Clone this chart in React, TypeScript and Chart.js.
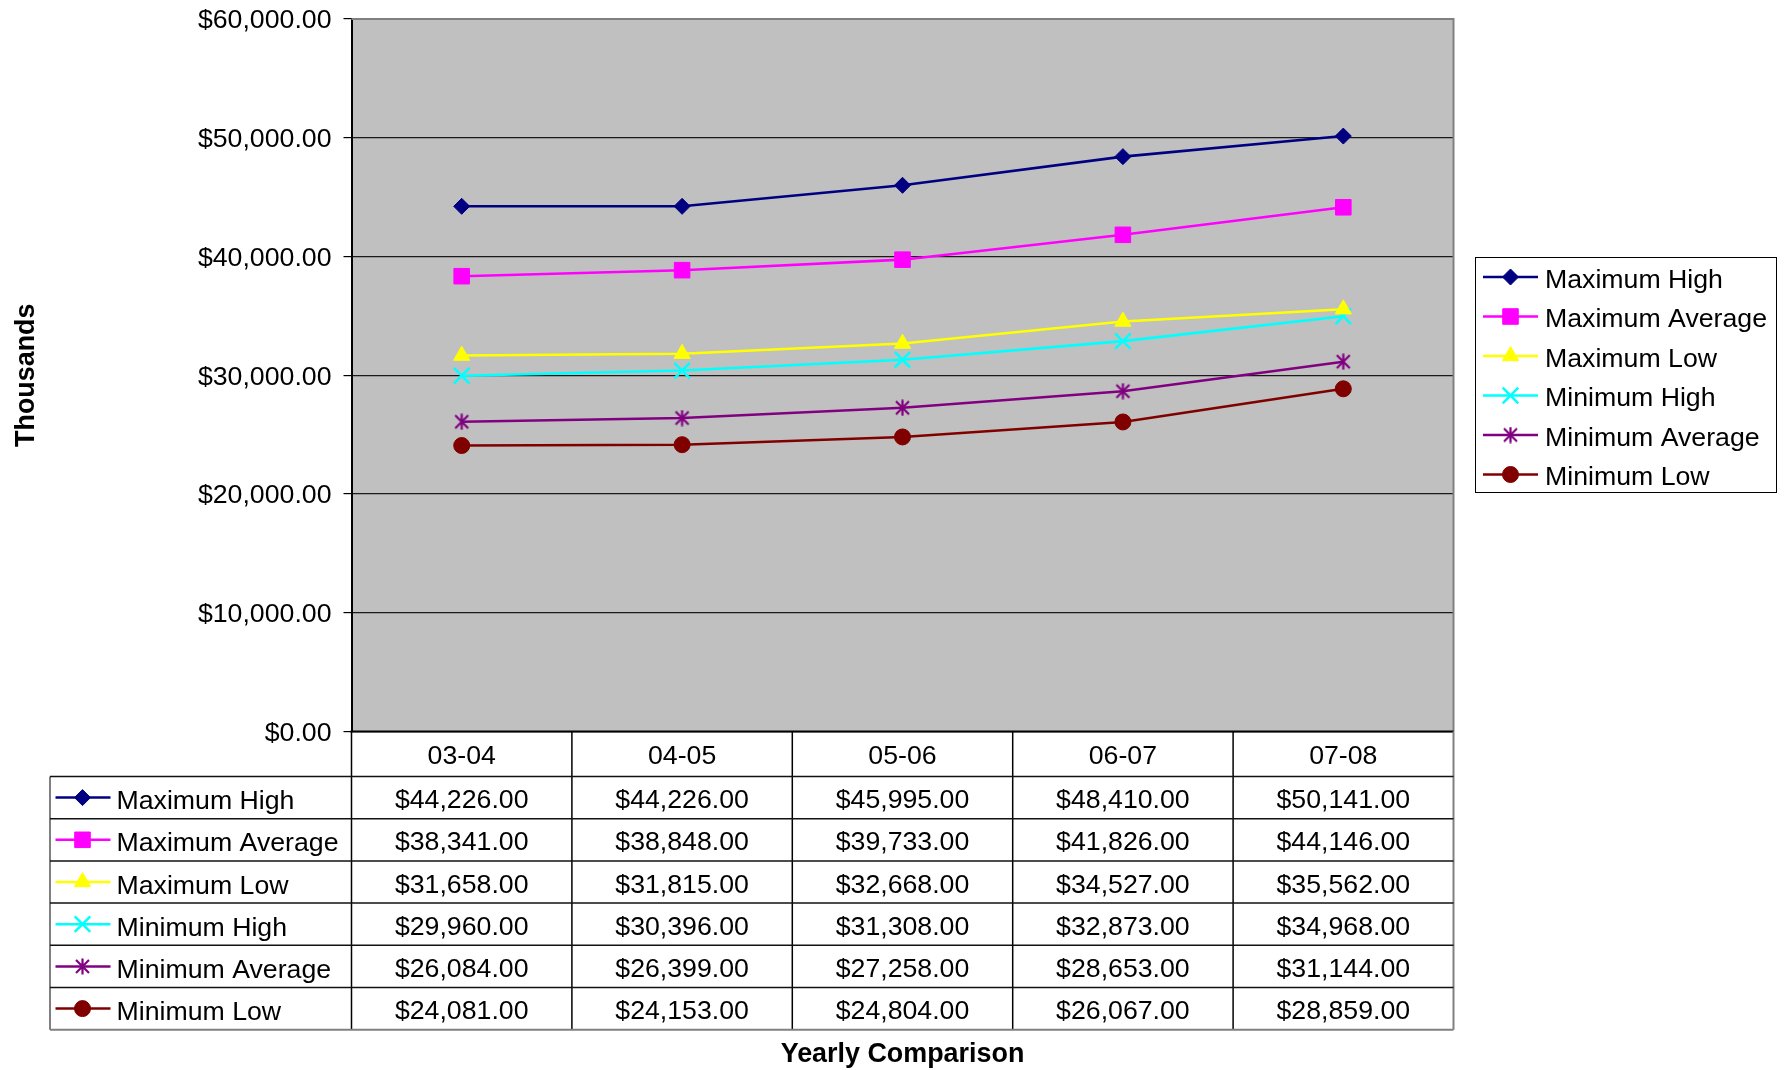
import React, { useEffect, useRef } from 'react';
import { Chart, registerables } from 'chart.js';
import { drawPoint } from 'chart.js/helpers';

Chart.register(...registerables);

const categories = ['03-04', '04-05', '05-06', '06-07', '07-08'];
const seriesNames = ['Maximum High', 'Maximum Average', 'Maximum Low', 'Minimum High', 'Minimum Average', 'Minimum Low'];
const maximumHigh = [44226, 44226, 45995, 48410, 50141];
const maximumAverage = [38341, 38848, 39733, 41826, 44146];
const maximumLow = [31658, 31815, 32668, 34527, 35562];
const minimumHigh = [29960, 30396, 31308, 32873, 34968];
const minimumAverage = [26084, 26399, 27258, 28653, 31144];
const minimumLow = [24081, 24153, 24804, 26067, 28859];
const yTickValues = [0, 10000, 20000, 30000, 40000, 50000, 60000];

const seriesValues = [maximumHigh, maximumAverage, maximumLow, minimumHigh, minimumAverage, minimumLow];

const FONT = '"Liberation Sans", Arial, Helvetica, sans-serif';
const FS = 26.7;
const FSB = 26.9;
const W = 1789;
const H = 1070;

const money = (v: number) =>
  '$' + Number(v).toLocaleString('en-US', { minimumFractionDigits: 2, maximumFractionDigits: 2 });

function makeStar(color: string, size = 17) {
  const c = document.createElement('canvas');
  c.width = size;
  c.height = size;
  const g = c.getContext('2d')!;
  g.strokeStyle = color;
  g.lineWidth = 2.2;
  g.lineCap = 'butt';
  g.beginPath();
  g.moveTo(2, 2);
  g.lineTo(size - 2, size - 2);
  g.moveTo(size - 2, 2);
  g.lineTo(2, size - 2);
  g.moveTo(size / 2, 0.5);
  g.lineTo(size / 2, size - 0.5);
  g.stroke();
  return c;
}

export default function App() {
  const ref = useRef<HTMLCanvasElement | null>(null);

  useEffect(() => {
    if (!ref.current) return;
    const styles: any[] = [
      { color: '#000080', pointStyle: 'rectRot', radius: 8, bw: 1 },
      { color: '#FF00FF', pointStyle: 'rect', radius: 11, bw: 1 },
      { color: '#FFFF00', pointStyle: 'triangle', radius: 9.4, bw: 1 },
      { color: '#00FFFF', pointStyle: 'crossRot', radius: 11, bw: 2.5 },
      { color: '#800080', pointStyle: makeStar('#800080'), radius: 8, bw: 2 },
      { color: '#800000', pointStyle: 'circle', radius: 8, bw: 1 },
    ];

    const drawKey = (ctx: CanvasRenderingContext2D, i: number, x1: number, x2: number, xm: number, y: number) => {
      const s = styles[i];
      ctx.save();
      ctx.strokeStyle = s.color;
      ctx.lineWidth = 2.5;
      ctx.beginPath();
      ctx.moveTo(x1, y);
      ctx.lineTo(x2, y);
      ctx.stroke();
      ctx.fillStyle = s.color;
      ctx.strokeStyle = s.color;
      ctx.lineWidth = s.bw;
      drawPoint(ctx, { pointStyle: s.pointStyle, radius: s.radius, borderWidth: s.bw, rotation: 0 } as any, xm, y);
      ctx.restore();
    };

    const line = (ctx: CanvasRenderingContext2D, x1: number, y1: number, x2: number, y2: number, color: string, w: number) => {
      ctx.save();
      ctx.strokeStyle = color;
      ctx.lineWidth = w;
      ctx.beginPath();
      ctx.moveTo(x1, y1);
      ctx.lineTo(x2, y2);
      ctx.stroke();
      ctx.restore();
    };

    const excelPlugin = {
      id: 'excelLook',
      beforeDraw(chart: any) {
        const { ctx, chartArea: a } = chart;
        ctx.save();
        ctx.fillStyle = '#FFFFFF';
        ctx.fillRect(0, 0, chart.width, chart.height);
        ctx.fillStyle = '#C0C0C0';
        ctx.fillRect(a.left, a.top, a.right - a.left, a.bottom - a.top);
        ctx.restore();
      },
      beforeDatasetsDraw(chart: any) {
        const { ctx, chartArea: a } = chart;
        ctx.save();
        ctx.strokeStyle = '#808080';
        ctx.lineWidth = 2;
        ctx.beginPath();
        ctx.moveTo(a.left, a.top);
        ctx.lineTo(a.right, a.top);
        ctx.lineTo(a.right, a.bottom);
        ctx.stroke();
        ctx.restore();
        line(ctx, a.left - 1, a.bottom, a.right, a.bottom, '#000', 2);
      },
      afterDraw(chart: any) {
        const { ctx, chartArea: a } = chart;
        const xs = chart.scales.x;
        const n = categories.length;
        const colW = (a.right - a.left) / n;
        const headerTop = a.bottom;
        const headerBottom = a.bottom + 45;
        const rowH = 42.2;
        const tableLeft = 50;
        const tableBottom = headerBottom + seriesNames.length * rowH;

        for (let k = 0; k <= n; k++) {
          const x = k < n ? xs.getPixelForValue(k) - colW / 2 : xs.getPixelForValue(n - 1) + colW / 2;
          line(ctx, x, headerTop, x, tableBottom, k === n ? '#808080' : '#000', k === n ? 2 : 1.5);
        }
        line(ctx, tableLeft, headerBottom, tableLeft, tableBottom, '#808080', 2);
        for (let j = 0; j <= seriesNames.length; j++) {
          const y = headerBottom + j * rowH;
          const last = j === seriesNames.length;
          line(ctx, tableLeft, y, a.right, y, last ? '#808080' : '#111', last ? 2 : 1.5);
        }

        ctx.save();
        ctx.fillStyle = '#000';
        ctx.font = `${FS}px ${FONT}`;
        ctx.textBaseline = 'alphabetic';
        ctx.textAlign = 'center';
        categories.forEach((c, i) => {
          ctx.fillText(c, xs.getPixelForValue(i), (headerTop + headerBottom) / 2 + 9.5);
        });
        seriesNames.forEach((name, j) => {
          const cy = headerBottom + j * rowH + rowH / 2;
          seriesValues[j].forEach((v, i) => {
            ctx.fillText(money(v), xs.getPixelForValue(i), cy + 10.5);
          });
        });
        ctx.textAlign = 'left';
        seriesNames.forEach((name, j) => {
          const cy = headerBottom + j * rowH + rowH / 2;
          ctx.fillText(name, 116.5, cy + 11.5);
        });
        ctx.restore();
        seriesNames.forEach((name, j) => {
          const cy = headerBottom + j * rowH + rowH / 2;
          drawKey(ctx, j, 55.5, 110.5, 82.5, cy);
        });

        // legend box
        const lx = 1475, ly = 257, lw = 301, lh = 235;
        ctx.save();
        ctx.fillStyle = '#FFFFFF';
        ctx.fillRect(lx, ly, lw, lh);
        ctx.strokeStyle = '#000';
        ctx.lineWidth = 1;
        ctx.strokeRect(lx + 0.5, ly + 0.5, lw, lh);
        ctx.restore();
        seriesNames.forEach((name, j) => {
          const y = 277 + j * 39.5;
          drawKey(ctx, j, 1483, 1538, 1510.5, y);
          ctx.save();
          ctx.fillStyle = '#000';
          ctx.font = `${FS}px ${FONT}`;
          ctx.textAlign = 'left';
          ctx.textBaseline = 'alphabetic';
          ctx.fillText(name, 1545, y + 10.5);
          ctx.restore();
        });

        // x axis title
        ctx.save();
        ctx.fillStyle = '#000';
        ctx.font = `bold ${FSB}px ${FONT}`;
        ctx.textAlign = 'center';
        ctx.textBaseline = 'alphabetic';
        ctx.fillText('Yearly Comparison', (a.left + a.right) / 2, 1062);
        ctx.restore();
      },
    };

    Chart.defaults.font.family = FONT;

    const chart = new Chart(ref.current, {
      type: 'line',
      data: {
        labels: categories,
        datasets: seriesValues.map((vals, i) => ({
          label: seriesNames[i],
          data: vals,
          borderColor: styles[i].color,
          backgroundColor: styles[i].color,
          borderWidth: 2.6,
          pointStyle: styles[i].pointStyle,
          pointRadius: styles[i].radius,
          pointHoverRadius: styles[i].radius,
          pointBorderWidth: styles[i].bw,
          pointBackgroundColor: styles[i].color,
          pointBorderColor: styles[i].color,
          tension: 0,
          fill: false,
          clip: false as any,
        })),
      },
      options: {
        responsive: false,
        animation: false,
        devicePixelRatio: 1,
        events: [],
        layout: { padding: { left: 0, top: 19, right: W - 1453.5, bottom: H - 731.5 } },
        plugins: {
          legend: { display: false },
          tooltip: { enabled: false },
          title: { display: false },
        },
        scales: {
          x: {
            type: 'category',
            offset: true,
            ticks: { display: false },
            grid: { display: false, drawTicks: false },
            border: { display: false },
            afterFit: (s: any) => {
              s.height = 0;
              s.paddingLeft = 0;
              s.paddingRight = 0;
            },
          },
          y: {
            min: 0,
            max: 60000,
            afterBuildTicks: (s: any) => {
              s.ticks = yTickValues.map((v) => ({ value: v }));
            },
            ticks: {
              padding: 12,
              labelOffset: 2,
              color: '#000',
              font: { size: FS, family: FONT },
              callback: (v: any) => money(Number(v)),
            },
            grid: { color: '#1a1a1a', lineWidth: 1.2, tickLength: 8, tickColor: '#000' },
            border: { display: true, color: '#000', width: 2 },
            title: {
              display: true,
              text: 'Thousands',
              color: '#000',
              font: { size: FSB, weight: 'bold', family: FONT },
              padding: { top: 10, bottom: 0 },
            },
            afterFit: (s: any) => {
              s.width = 351.5;
              s.paddingTop = 0;
              s.paddingBottom = 0;
            },
          },
        },
      },
      plugins: [excelPlugin],
    } as any);

    return () => chart.destroy();
  }, []);

  return (
    <div style={{ position: 'absolute', left: 0, top: 0, width: W, height: H, background: '#fff' }}>
      <canvas ref={ref} width={W} height={H} style={{ display: 'block' }} />
    </div>
  );
}
